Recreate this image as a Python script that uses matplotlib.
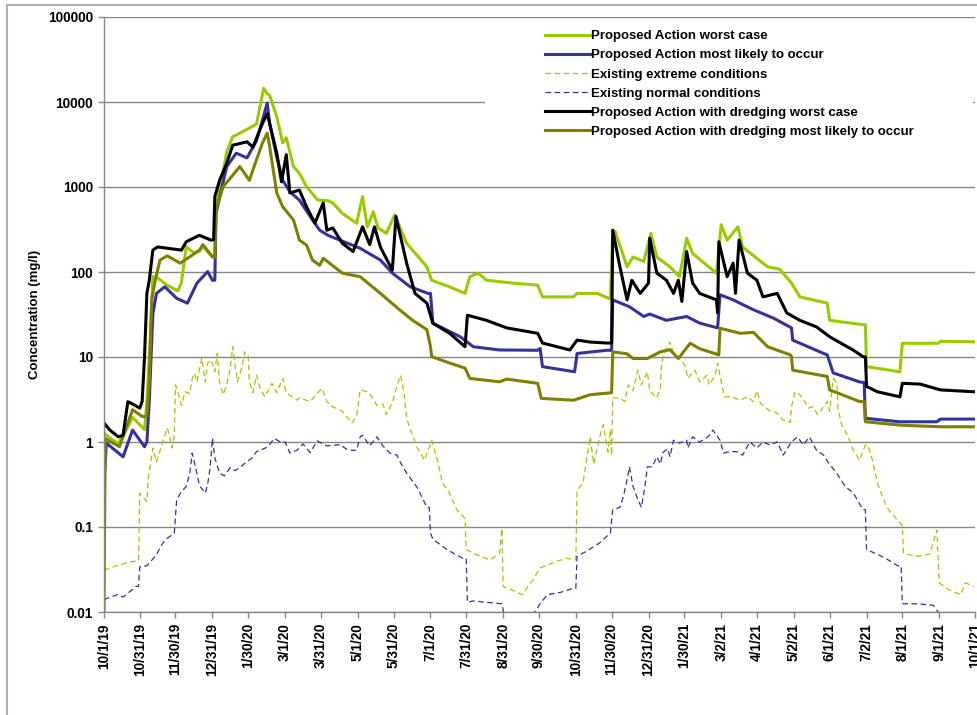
import pandas as pd
import matplotlib
matplotlib.use('Agg')
import matplotlib.pyplot as plt
from matplotlib.patches import Rectangle
from matplotlib.lines import Line2D

plt.rcParams['font.family'] = ['Liberation Sans', 'DejaVu Sans']
plt.rcParams['font.weight'] = 'bold'

# ---- DATA (day offset from 10/1/19, concentration mg/l) ---- #
start = pd.Timestamp('2019-10-01')

pa_worst_day = [0, 2, 12, 20, 24, 30, 34, 36, 38, 40, 41, 45, 53, 62, 65, 69, 75, 80, 83, 91, 93,
                94, 100, 103, 108, 114, 122, 128, 134, 137, 139, 145, 150, 153, 159, 164, 170, 179,
                181, 188, 192, 200, 212, 217, 221, 226, 230, 237, 244, 254, 271, 275, 290, 303, 307,
                314, 321, 343, 364, 368, 394, 397, 414, 425, 427, 429, 439, 444, 453, 459, 464, 475,
                483, 489, 494, 514, 518, 523, 532, 536, 557, 567, 577, 584, 607, 609, 637, 639, 640,
                668, 670, 700, 702, 730]
pa_worst_val = [1.3, 1.2, 0.95, 1.5, 1.95, 1.6, 1.4, 3, 10, 40, 88, 85, 70, 60, 75, 198, 170, 175, 200,
                151, 150, 585, 1500, 2600, 3900, 4300, 4940, 5500, 14500, 12500, 12000, 6700, 3300,
                3800, 1740, 1450, 1010, 710, 700, 690, 650, 490, 375, 770, 340, 510, 330, 285, 470,
                218, 115, 80, 67, 56, 88, 97, 80, 74, 70, 51, 51, 56, 56, 48, 310, 300, 115, 150, 133,
                285, 150, 115, 88, 250, 165, 97, 360, 237, 340, 196, 115, 108, 74, 51, 43, 27, 24, 24,
                7.7, 6.7, 14.5, 14.5, 15.3, 15.1]

pa_likely_day = [0, 2, 16, 24, 34, 36, 38, 40, 41, 44, 51, 61, 70, 78, 87, 91, 93, 94, 103, 111, 120,
                 128, 137, 139, 145, 150, 156, 164, 175, 181, 188, 198, 215, 232, 242, 257, 272, 274,
                 276, 299, 310, 332, 364, 366, 368, 395, 397, 422, 426, 427, 441, 453, 458, 472, 489,
                 500, 515, 517, 528, 545, 562, 577, 578, 604, 607, 612, 634, 638, 639, 668, 699, 702, 730]
pa_likely_val = [0.33, 0.97, 0.67, 1.38, 0.88, 1.0, 3, 15, 32, 56, 67, 49, 43, 74, 101, 80, 80, 490,
                 1740, 2500, 2200, 3500, 9700, 5600, 2260, 1200, 880, 700, 410, 310, 270, 237, 190, 138,
                 97, 67, 56, 56, 25, 17.3, 13.2, 12.1, 12, 12.6, 7.7, 6.7, 11, 12, 12, 47, 39, 30, 32,
                 27, 30, 25, 22, 54, 47, 36, 28.6, 22, 15.8, 11, 10.6, 6.5, 5.1, 5.0, 1.9, 1.73, 1.73,
                 1.86, 1.86]

ex_extreme_day = [0, 5, 22, 29, 30, 36, 37, 41, 44, 53, 55, 57, 59, 60, 62, 65, 68, 72, 74, 76, 78,
                  82, 85, 87, 90, 93, 95, 97, 100, 103, 106, 108, 110, 112, 116, 118, 121, 122, 125,
                  128, 131, 135, 141, 145, 150, 153, 158, 162, 164, 173, 183, 187, 192, 200, 208, 212,
                  215, 221, 225, 229, 234, 237, 242, 246, 249, 252, 254, 258, 263, 269, 275, 280, 284,
                  290, 296, 303, 304, 316, 324, 332, 334, 335, 343, 351, 360, 366, 377, 388, 396, 397,
                  402, 408, 411, 416, 419, 423, 425, 426, 427, 433, 437, 440, 444, 448, 451, 456, 458,
                  464, 467, 468, 472, 475, 478, 483, 488, 490, 496, 500, 506, 508, 513, 515, 519, 521,
                  527, 534, 540, 545, 548, 551, 559, 565, 570, 576, 577, 580, 584, 587, 591, 595, 599,
                  604, 607, 609, 612, 615, 616, 619, 624, 628, 634, 639, 641, 645, 649, 657, 666, 670,
                  671, 682, 693, 699, 701, 710, 719, 723, 730]
ex_extreme_val = [0.031, 0.033, 0.039, 0.04, 0.25, 0.2, 0.36, 0.85, 0.58, 1.46, 1.2, 0.85, 1.2, 4.7,
                  3.9, 2.7, 3.9, 3.7, 5.6, 6.5, 5.1, 9.7, 5.1, 8.5, 9.2, 6.7, 11, 5.1, 3.6, 4.7, 7.4,
                  13.2, 8.0, 5.1, 7.8, 11.5, 10.2, 5.1, 3.8, 6.1, 4.3, 3.4, 4.9, 3.8, 5.6, 3.8, 3.4,
                  3.1, 3.3, 3.0, 4.3, 3.0, 2.6, 2.3, 1.67, 2.0, 4.1, 3.9, 3.4, 2.7, 2.8, 2.1, 2.9, 4.7,
                  6.1, 3.6, 1.9, 1.3, 0.85, 0.61, 1.05, 0.6, 0.33, 0.25, 0.16, 0.126, 0.054, 0.045,
                  0.041, 0.049, 0.096, 0.02, 0.018, 0.016, 0.024, 0.033, 0.038, 0.043, 0.041, 0.27,
                  0.33, 1.15, 0.55, 1.15, 1.6, 0.76, 1.4, 0.7, 3.3, 3.3, 2.98, 4.7, 4.0, 7.0, 4.7, 6.7,
                  4.0, 3.3, 4.3, 8.8, 12.7, 15, 11, 9.8, 7.7, 5.6, 7.0, 5.1, 6.1, 4.7, 6.1, 8.5, 4.3,
                  3.4, 3.4, 3.1, 3.4, 2.98, 4.0, 2.85, 2.3, 2.2, 1.8, 1.7, 2.6, 3.9, 3.6, 3.2, 2.5,
                  2.6, 2.1, 2.6, 3.0, 2.3, 5.6, 5.0, 2.5, 1.6, 1.2, 0.85, 0.61, 0.92, 0.92, 0.61,
                  0.33, 0.17, 0.12, 0.105, 0.049, 0.045, 0.048, 0.092, 0.022, 0.018, 0.016, 0.022, 0.02]

ex_normal_day = [0, 11, 16, 27, 29, 30, 36, 44, 47, 51, 59, 61, 65, 69, 72, 74, 78, 80, 85, 87, 89,
                 91, 93, 97, 101, 106, 110, 114, 120, 124, 128, 133, 137, 143, 148, 152, 156, 162,
                 167, 173, 179, 187, 198, 205, 212, 215, 217, 223, 229, 234, 240, 246, 248, 254, 263,
                 271, 273, 274, 276, 288, 301, 304, 305, 310, 321, 334, 336, 358, 362, 366, 372, 383,
                 394, 396, 397, 405, 416, 425, 426, 427, 433, 436, 439, 441, 444, 447, 451, 454, 456,
                 460, 464, 467, 469, 473, 475, 478, 483, 489, 490, 494, 500, 507, 511, 517, 520, 525,
                 531, 536, 542, 548, 553, 559, 565, 570, 577, 582, 587, 592, 598, 604, 608, 615, 622,
                 629, 637, 639, 640, 649, 657, 666, 669, 670, 682, 696, 700, 701, 730]
ex_normal_val = [0.014, 0.016, 0.015, 0.02, 0.02, 0.034, 0.035, 0.047, 0.057, 0.07, 0.085, 0.21, 0.26,
                 0.3, 0.43, 0.74, 0.43, 0.31, 0.25, 0.32, 0.49, 1.1, 0.65, 0.43, 0.4, 0.5, 0.46, 0.5,
                 0.59, 0.64, 0.77, 0.82, 0.87, 1.1, 1.0, 1.0, 0.74, 0.8, 0.95, 0.75, 1.03, 0.9, 0.93,
                 0.8, 0.8, 1.15, 1.2, 0.9, 1.15, 0.9, 0.74, 0.7, 0.6, 0.43, 0.29, 0.17, 0.17, 0.085,
                 0.072, 0.054, 0.043, 0.043, 0.013, 0.0135, 0.013, 0.0125, 0.009, 0.009, 0.0102,
                 0.0125, 0.016, 0.017, 0.019, 0.019, 0.045, 0.052, 0.065, 0.085, 0.12, 0.16, 0.17,
                 0.23, 0.36, 0.51, 0.3, 0.23, 0.17, 0.3, 0.51, 0.51, 0.67, 0.55, 0.75, 0.83, 0.67,
                 1.05, 0.97, 1.05, 0.85, 1.15, 1.0, 1.15, 1.38, 1.05, 0.74, 0.77, 0.77, 0.7, 1.0,
                 0.85, 1.0, 0.92, 1.0, 0.7, 1.0, 1.15, 0.92, 1.15, 0.8, 0.7, 0.57, 0.43, 0.3, 0.25,
                 0.16, 0.16, 0.054, 0.048, 0.042, 0.035, 0.035, 0.0125, 0.0125, 0.012, 0.01, 0.008,
                 0.008]

dr_worst_day = [0, 5, 12, 16, 20, 24, 30, 32, 34, 36, 38, 41, 45, 65, 69, 80, 90, 92, 93, 97, 103, 108,
                120, 125, 133, 137, 139, 145, 149, 153, 156, 164, 170, 177, 184, 187, 192, 200, 209,
                217, 223, 227, 232, 242, 245, 254, 261, 271, 276, 290, 303, 305, 321, 338, 364, 368,
                391, 397, 408, 422, 426, 427, 433, 439, 443, 450, 457, 458, 464, 472, 478, 482, 485,
                489, 494, 500, 514, 515, 516, 523, 528, 530, 533, 540, 548, 553, 565, 573, 584, 598,
                609, 629, 637, 639, 640, 649, 668, 670, 685, 702, 730]
dr_worst_val = [1.67, 1.38, 1.15, 1.2, 2.98, 2.8, 2.5, 3, 10, 56, 80, 181, 197, 181, 227, 270, 237, 240,
                770, 1200, 1900, 3100, 3400, 2950, 5600, 7300, 5600, 2500, 1150, 2400, 850, 920, 585,
                375, 650, 310, 330, 218, 174, 340, 210, 340, 196, 105, 450, 127, 56, 43, 25, 19, 13.2,
                31, 27, 22, 19, 14.6, 12.1, 15.8, 15, 14.6, 14.6, 310, 115, 47, 80, 56, 74, 250, 97,
                80, 56, 80, 45, 174, 74, 56, 47, 33, 227, 88, 127, 56, 237, 97, 80, 51, 56, 33, 27,
                22.6, 17.3, 12, 10.1, 10, 4.5, 3.9, 3.4, 4.9, 4.8, 4.1, 3.9]

dr_likely_day = [0, 1, 13, 24, 32, 36, 38, 40, 43, 47, 53, 64, 72, 80, 83, 91, 93, 94, 100, 106, 114,
                 122, 128, 133, 137, 139, 145, 150, 159, 164, 170, 175, 181, 184, 200, 215, 232, 248,
                 259, 271, 274, 275, 290, 303, 307, 332, 338, 364, 367, 394, 408, 426, 427, 439, 444,
                 456, 467, 475, 482, 492, 500, 516, 517, 534, 545, 557, 576, 577, 578, 607, 609, 634,
                 638, 639, 668, 702, 730]
dr_likely_val = [0.01, 1.1, 0.88, 2.4, 2.0, 2.0, 5, 47, 80, 138, 155, 127, 151, 180, 210, 151, 150, 540,
                 1010, 1270, 1740, 1200, 2100, 3300, 4300, 3000, 850, 585, 410, 237, 207, 138, 120, 145,
                 97, 88, 56, 36, 27, 21, 13.2, 10.1, 8.5, 7.4, 5.6, 5.1, 5.5, 4.9, 3.26, 3.1, 3.6, 3.8,
                 11.5, 10.9, 9.6, 9.6, 11.5, 12.2, 9.6, 14.5, 12.5, 10.6, 21.8, 19, 19.5, 13.2, 10.6,
                 10.1, 7, 5.9, 4.1, 3.0, 3.0, 1.73, 1.58, 1.51, 1.51]

labels = ['Proposed Action worst case',
          'Proposed Action most likely to occur',
          'Existing extreme conditions',
          'Existing normal conditions',
          'Proposed Action with dredging worst case',
          'Proposed Action with dredging most likely to occur']

tick_labels = ['10/1/19', '10/31/19', '11/30/19', '12/31/19', '1/30/20', '3/1/20', '3/31/20',
               '5/1/20', '5/31/20', '7/1/20', '7/31/20', '8/31/20', '9/30/20', '10/31/20',
               '11/30/20', '12/31/20', '1/30/21', '3/2/21', '4/1/21', '5/2/21', '6/1/21',
               '7/2/21', '8/1/21', '9/1/21', '10/1/21']
y_ticks = [0.01, 0.1, 1, 10, 100, 1000, 10000, 100000]
y_tick_labels = ['0.01', '0.1', '1', '10', '100', '1000', '10000', '100000']


def to_dates(days):
    return start + pd.to_timedelta(days, unit='D')


# ---- PLOTTING ---- #
fig = plt.figure(figsize=(9.77, 7.15), dpi=100)
ax = fig.add_axes([104 / 977, 1 - 612 / 715, 871 / 977, 595 / 715])
ax.set_axisbelow(True)

green = '#99CC00'
blue = '#333399'
olive = '#808000'
dash = (0, (4.5, 2.8))

series = [
    (pa_worst_day, pa_worst_val, dict(color=green, lw=2.2)),
    (pa_likely_day, pa_likely_val, dict(color=blue, lw=2.2)),
    (ex_extreme_day, ex_extreme_val, dict(color=green, lw=0.9, linestyle=dash)),
    (ex_normal_day, ex_normal_val, dict(color=blue, lw=0.9, linestyle=dash)),
    (dr_worst_day, dr_worst_val, dict(color='black', lw=2.2)),
    (dr_likely_day, dr_likely_val, dict(color=olive, lw=2.2)),
]
handles = []
for (d, v, style), lbl in zip(series, labels):
    h, = ax.plot(to_dates(d), v, label=lbl, solid_joinstyle='round', **style)
    handles.append(h)

# dredging lines sit over the others
handles[4].set_zorder(2.3)
handles[5].set_zorder(2.2)

ax.set_yscale('log')
ax.set_ylim(0.01, 100000)
ax.set_xlim(start, start + pd.Timedelta(days=731))

tick_pos = pd.to_datetime(tick_labels, format='%m/%d/%y')
ax.set_xticks(tick_pos)
ax.set_xticklabels(tick_labels, rotation=90, fontsize=9.8, fontweight='bold')
ax.set_yticks(y_ticks)
ax.set_yticklabels(y_tick_labels, fontsize=9.8, fontweight='bold')
ax.yaxis.set_minor_locator(plt.NullLocator())
ax.tick_params(axis='both', colors='#868686', labelcolor='black', length=4, width=1, pad=4)

ax.grid(True, axis='y', which='major', color='#868686', lw=1)
for s in ['top', 'right']:
    ax.spines[s].set_visible(False)
for s in ['left', 'bottom']:
    ax.spines[s].set_color('#868686')
    ax.spines[s].set_linewidth(1)

ax.set_ylabel('Concentration (mg/l)', fontsize=9.5, fontweight='bold', labelpad=5)

# ---- LEGEND ---- #
ax.add_patch(Rectangle((0.437, 0.725), 0.561, 0.27, transform=ax.transAxes,
                       facecolor='white', edgecolor='none', zorder=1))
ax.legend(handles=handles, loc='upper left', bbox_to_anchor=(0.506, 0.978), frameon=False,
          prop={'size': 9.5, 'weight': 'bold'}, handlelength=3.4, handletextpad=0.1,
          labelspacing=0.52, borderpad=0, borderaxespad=0)

# chart area border (left and top)
fig.add_artist(Line2D([7 / 977, 7 / 977], [0, 1 - 5 / 715], color='#B0B0B0', lw=1.5))
fig.add_artist(Line2D([7 / 977, 1], [1 - 5 / 715, 1 - 5 / 715], color='#B0B0B0', lw=1.5))

fig.savefig('out.png', dpi=100)
